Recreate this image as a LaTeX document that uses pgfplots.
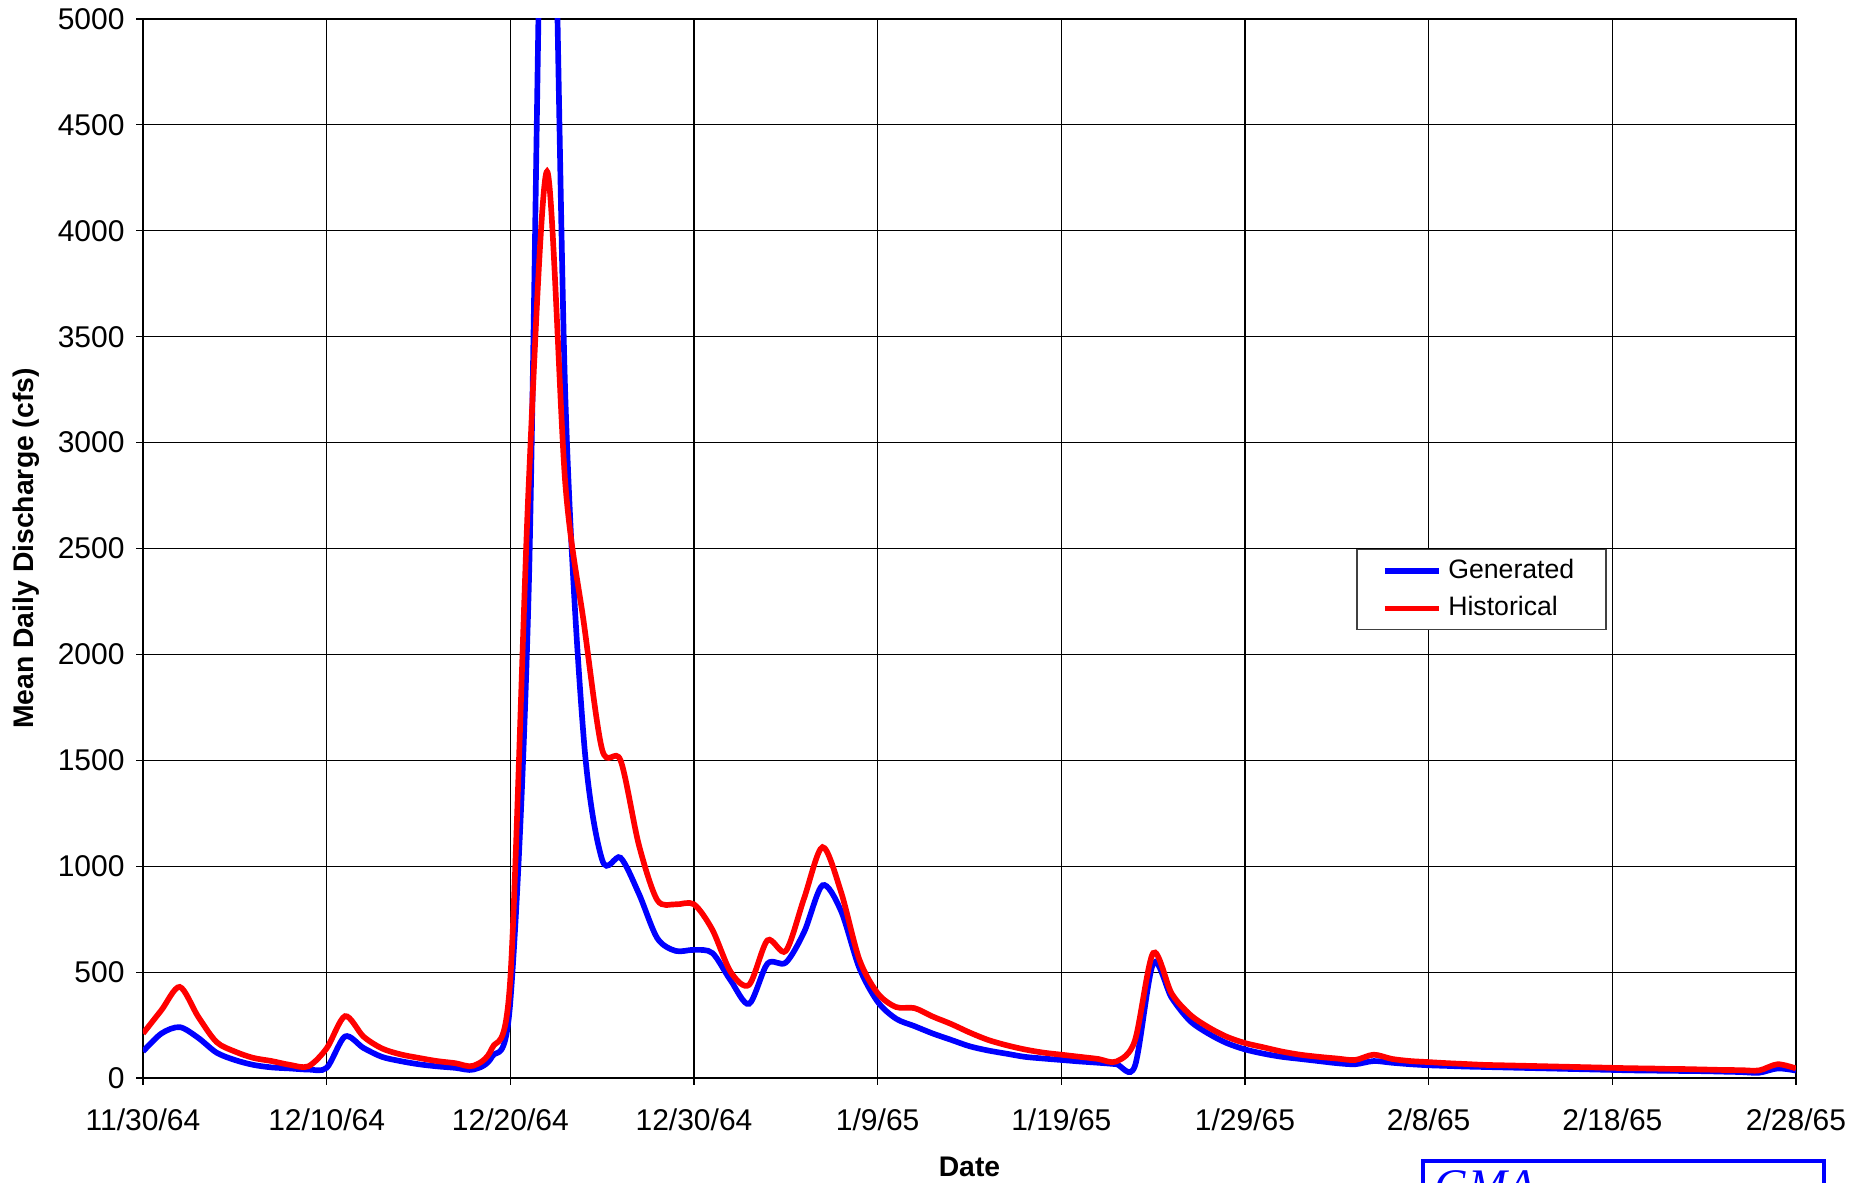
\documentclass[border=0pt]{standalone}
\usepackage{pgfplots}
\pgfplotsset{compat=1.18}
\usepackage{fontspec}
\setmainfont{Liberation Sans}
\newfontfamily\logofont{Liberation Serif}
\usepackage{pgfplotstable}
\pgfplotstableread{
day val
0 125
1 210
2 240
3 190
4 120
5 85
6 62
7 50
8 45
9 40
10 48
11 196
12 142
13 100
14 80
15 65
16 55
17 48
18 40
19 100
20 360
21 2300
22 6800
23 3200
24 1600
25 1030
26 1040
27 870
28 660
29 600
30 605
31 590
32 460
33 350
34 540
35 545
36 690
37 910
38 790
39 520
40 360
41 280
42 245
43 210
44 180
45 150
46 130
47 115
48 100
49 92
50 85
51 78
52 72
53 65
54 55
55 540
56 380
57 270
58 210
59 165
60 135
61 115
62 100
63 90
64 80
65 70
66 65
67 80
68 72
69 65
70 60
71 57
72 54
73 52
74 50
75 48
76 46
77 44
78 42
79 40
80 38
81 36
82 35
83 34
84 33
85 32
86 30
87 28
88 25
89 45
90 35
}\gen
\pgfplotstableread{
day val
0 210
1 320
2 430
3 290
4 170
5 125
6 95
7 80
8 62
9 55
10 140
11 292
12 196
13 140
14 112
15 95
16 80
17 70
18 58
19 140
20 470
21 2800
22 4280
23 2800
24 2150
25 1550
26 1500
27 1100
28 840
29 820
30 820
31 700
32 500
33 440
34 650
35 600
36 850
37 1090
38 880
39 560
40 400
41 335
42 330
43 290
44 255
45 215
46 180
47 155
48 135
49 120
50 110
51 100
52 90
53 78
54 175
55 590
56 400
57 300
58 240
59 195
60 165
61 145
62 125
63 110
64 100
65 92
66 85
67 110
68 90
69 80
70 75
71 70
72 66
73 62
74 60
75 58
76 56
77 54
78 52
79 50
80 48
81 46
82 45
83 43
84 42
85 40
86 38
87 37
88 36
89 65
90 45
}\hist
\begin{document}
\begin{tikzpicture}
\useasboundingbox (-42.9pt,-31.5pt) rectangle (516.9pt,323.4pt);
\begin{axis}[
  at={(0pt,0pt)}, anchor=south west, scale only axis,
  width=495.9pt, height=317.7pt,
  xmin=0, xmax=90, ymin=0, ymax=5000,
  xtick={0,10,...,90},
  xticklabels={11/30/64,12/10/64,12/20/64,12/30/64,1/9/65,1/19/65,1/29/65,2/8/65,2/18/65,2/28/65},
  ytick={0,500,...,5000},
  xtick pos=bottom, ytick pos=left,
  grid=major, major grid style={black, line width=0.35pt},
  axis line style={black, line width=0.45pt},
  tick align=outside, major tick length=2pt,
  tick style={black, line width=0.35pt},
  /pgf/number format/assume math mode=true,
  /pgf/number format/1000 sep={},
  tick label style={font=\fontsize{9}{10}\selectfont},
  xticklabel style={yshift=-3.7pt},
  xlabel={Date}, ylabel={Mean Daily Discharge (cfs)},
  label style={font=\fontsize{8.5}{10}\selectfont\bfseries},
  xlabel style={at={(rel axis cs:0.5,0)}, anchor=center, yshift=-26.7pt},
  ylabel style={at={([xshift=-35.1pt]rel axis cs:0,0.5)}, anchor=center},
  legend style={at={(0.734,0.4995)}, anchor=north west, draw=black!75, line width=0.4pt,
    font=\fontsize{8}{9.5}\selectfont, inner xsep=7.5pt, inner ysep=0.7pt, row sep=0pt},
  legend cell align=left,
  legend image code/.code={\draw[#1, line width=1.7pt] (2.4pt,0pt) -- (18.6pt,0pt);},
]
\addplot[blue, line width=1.7pt, smooth, tension=0.5] table[x=day, y=val] {\gen};
\addlegendentry{Generated}
\addplot[red, line width=1.7pt, smooth, tension=0.5] table[x=day, y=val] {\hist};
\addlegendentry{Historical}
\end{axis}
\draw[blue, line width=1pt] (384pt,-40pt) -- (384pt,-24.9pt) -- (504.3pt,-24.9pt) -- (504.3pt,-40pt);
\node[blue, anchor=base west, inner sep=0pt, font=\logofont\itshape\fontsize{14}{14}\selectfont] at (387.3pt,-37.1pt) {GMA};
\end{tikzpicture}
\end{document}
